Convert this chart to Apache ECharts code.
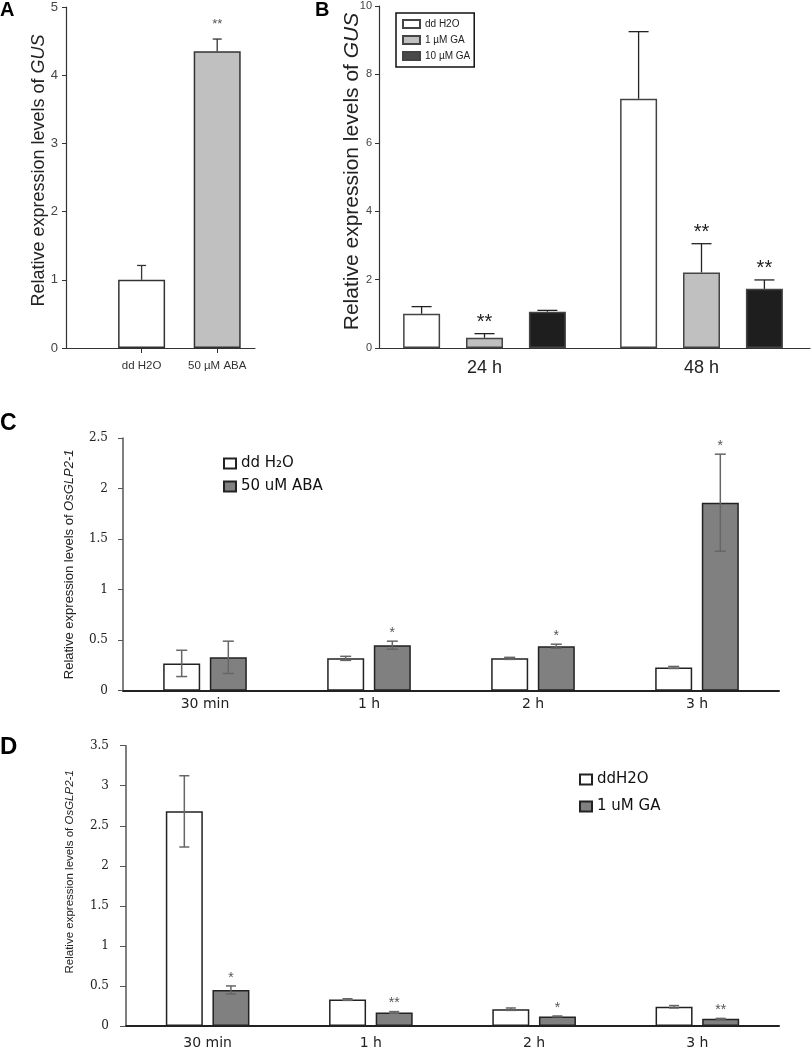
<!DOCTYPE html>
<html>
<head>
<meta charset="utf-8">
<script src="https://cdn.jsdelivr.net/npm/echarts@6/dist/echarts.min.js"></script>
<style>html,body{margin:0;padding:0;background:#fff}#chart{width:812px;height:1050px}</style>
</head>
<body>
<div id="chart"></div>
<script>
// ---------- Panel A ----------
const catA = ['dd H2O', '50 µM ABA'];
const valA = [1.0, 4.35];
const errA = [0.21, 0.18];
const sigA = ['', '**'];
const ticksA = [0, 1, 2, 3, 4, 5];

// ---------- Panel B ----------
const catB = ['24 h', '48 h'];
const namesB = ['dd H2O', '1 µM GA', '10 µM GA'];
const valB_H2O = [1.0, 7.29];
const errB_H2O = [0.21, 1.96];
const sigB_H2O = ['', ''];
const valB_GA1 = [0.30, 2.21];
const errB_GA1 = [0.12, 0.84];
const sigB_GA1 = ['**', '**'];
const valB_GA10 = [1.06, 1.73];
const errB_GA10 = [0.04, 0.26];
const sigB_GA10 = ['', '**'];

// ---------- Panel C ----------
const catC = ['30 min', '1 h', '2 h', '3 h'];
const namesC = ['dd H₂O', '50 uM ABA'];
const valC_H2O = [0.27, 0.32, 0.32, 0.23];
const errC_H2O = [0.13, 0.02, 0.01, 0.01];
const sigC_H2O = ['', '', '', ''];
const valC_ABA = [0.33, 0.45, 0.44, 1.86];
const errC_ABA = [0.16, 0.04, 0.02, 0.48];
const sigC_ABA = ['', '*', '*', '*'];

// ---------- Panel D ----------
const catD = ['30 min', '1 h', '2 h', '3 h'];
const namesD = ['ddH2O', '1 uM GA'];
const valD_H2O = [2.68, 0.33, 0.21, 0.24];
const errD_H2O = [0.445, 0.01, 0.015, 0.015];
const sigD_H2O = ['', '', '', ''];
const valD_GA = [0.45, 0.17, 0.12, 0.09];
const errD_GA = [0.05, 0.01, 0.005, 0.005];
const sigD_GA = ['*', '**', '*', '**'];

const SANS = 'Liberation Sans, Arial, sans-serif';
const WIDE = 'DejaVu Sans, sans-serif';
const SERIF = 'DejaVu Serif, Liberation Serif, serif';

// error bar + significance renderer
function errSeries(opt) {
  const data = opt.vals.map((v, i) => [opt.xs ? opt.xs[i] : i, v, opt.errs[i]]);
  return {
    type: 'custom', xAxisIndex: opt.axis, yAxisIndex: opt.axis, z: 5, silent: true,
    data: data,
    renderItem: function (params, api) {
      const xi = api.value(0), v = api.value(1), e = api.value(2);
      const base = api.coord([xi, v]);
      const top = api.coord([xi, v + e]);
      const bot = api.coord([xi, Math.max(0, v - e)]);
      const x = base[0] + opt.offset;
      const hw = opt.cap / 2;
      const st = { stroke: opt.color, lineWidth: opt.lw };
      const ch = [];
      if (e > 0) {
        ch.push({ type: 'line', shape: { x1: x, y1: opt.two ? bot[1] : base[1], x2: x, y2: top[1] }, style: st });
        ch.push({ type: 'line', shape: { x1: x - hw, y1: top[1], x2: x + hw, y2: top[1] }, style: st });
        if (opt.two) ch.push({ type: 'line', shape: { x1: x - hw, y1: bot[1], x2: x + hw, y2: bot[1] }, style: st });
      }
      const s = opt.sig[params.dataIndex];
      if (s) {
        ch.push({ type: 'text', style: { text: s, x: x, y: top[1] - opt.sigGap, align: 'center', verticalAlign: 'middle',
          font: opt.sigFont, fill: opt.sigColor } });
      }
      return { type: 'group', children: ch };
    }
  };
}

function offs(n, k, bw, gapRatio) { return (k - (n - 1) / 2) * bw * (1 + gapRatio); }

const BW_B = 37, GAP_B = 0.7;
const BW_C = 37, GAP_C = 0.26;

const option = {
  animation: false,
  backgroundColor: '#fff',
  graphic: [
    { type: 'text', left: 0, top: 0, style: { text: 'A', font: 'bold 20px ' + SANS, fill: '#000' } },
    { type: 'text', left: 315, top: 0, style: { text: 'B', font: 'bold 20px ' + SANS, fill: '#000' } },
    { type: 'text', left: 0, top: 412, style: { text: 'C', font: 'bold 23px ' + SANS, fill: '#000' } },
    { type: 'text', left: 0, top: 735, style: { text: 'D', font: 'bold 24px ' + SANS, fill: '#000' } }
  ],
  legend: [
    { data: [{ name: namesB[0] }, { name: namesB[1] }, { name: namesB[2], itemStyle: { color: '#4a4a4a' } }],
      orient: 'vertical', left: 396, top: 13, padding: [6, 4, 6, 6], itemWidth: 17, itemHeight: 8, itemGap: 6,
      borderColor: '#111', borderWidth: 1.5, icon: 'rect', selectedMode: false,
      textStyle: { fontFamily: SANS, fontSize: 10, color: '#222' } },
    { data: namesC, orient: 'vertical', left: 223, top: 456, padding: 0, itemWidth: 12, itemHeight: 10, itemGap: 8,
      icon: 'rect', selectedMode: false, textStyle: { fontFamily: WIDE, fontSize: 15, color: '#111' } },
    { data: namesD, orient: 'vertical', left: 579, top: 772, padding: 0, itemWidth: 12, itemHeight: 10, itemGap: 12,
      icon: 'rect', selectedMode: false, textStyle: { fontFamily: WIDE, fontSize: 15, color: '#111' } }
  ],
  grid: [
    { left: 66, top: 7, width: 189, height: 341 },
    { left: 376, top: 6, width: 434, height: 342 },
    { left: 123, top: 438, width: 656, height: 252.7 },
    { left: 126, top: 745.7, width: 653, height: 282 }
  ],
  xAxis: [
    { gridIndex: 0, type: 'value', min: 0, max: 2.5, interval: 1, splitLine: { show: false },
      axisLine: { show: true, lineStyle: { color: '#333', width: 1.2 } },
      axisTick: { show: true, length: 5, customValues: [1, 2], lineStyle: { color: '#333' } },
      axisLabel: { customValues: [1, 2], formatter: v => (v >= 1 && Number.isInteger(v)) ? (catA[v - 1] || '') : '',
        margin: 12, fontFamily: SANS, fontSize: 11.5, color: '#333' } },
    { gridIndex: 1, type: 'category', data: catB,
      axisLine: { lineStyle: { color: '#333', width: 1.2 } },
      axisTick: { alignWithLabel: true, length: 5, lineStyle: { color: '#333' } },
      axisLabel: { margin: 11, fontFamily: SANS, fontSize: 18, color: '#222' } },
    { gridIndex: 2, type: 'category', data: catC,
      axisLine: { lineStyle: { color: '#222', width: 2 } }, axisTick: { show: false },
      axisLabel: { margin: 7, fontFamily: WIDE, fontSize: 14, color: '#222' } },
    { gridIndex: 3, type: 'category', data: catD,
      axisLine: { lineStyle: { color: '#222', width: 2 } }, axisTick: { show: false },
      axisLabel: { margin: 10, fontFamily: WIDE, fontSize: 14, color: '#222' } }
  ],
  yAxis: [
    { gridIndex: 0, type: 'value', min: ticksA[0], max: ticksA[ticksA.length - 1], interval: 1, splitLine: { show: false },
      axisLine: { show: true, lineStyle: { color: '#333', width: 1.2 } },
      axisTick: { show: true, length: 4, lineStyle: { color: '#333' } },
      axisLabel: { margin: 8, fontFamily: SANS, fontSize: 13, color: '#444' },
      name: 'Relative expression levels of {i|GUS}', nameLocation: 'middle', nameGap: 18, nameMoveOverlap: false,
      nameTextStyle: { fontFamily: SANS, fontSize: 18, color: '#222', padding: [0, 0, 0, 14],
        rich: { i: { fontStyle: 'italic', fontFamily: SANS, fontSize: 18, color: '#222' } } } },
    { gridIndex: 1, type: 'value', min: 0, max: 10, interval: 2, splitLine: { show: false }, offset: -3,
      axisLine: { show: true, lineStyle: { color: '#333', width: 1.2 } },
      axisTick: { show: true, length: 4, lineStyle: { color: '#333' } },
      axisLabel: { margin: 7, fontFamily: SANS, fontSize: 11, color: '#444' },
      name: 'Relative expression levels of {i|GUS}', nameLocation: 'middle', nameGap: 16, nameMoveOverlap: false,
      nameTextStyle: { fontFamily: SANS, fontSize: 21, color: '#222', padding: [0, 0, 0, 11],
        rich: { i: { fontStyle: 'italic', fontFamily: SANS, fontSize: 21, color: '#222' } } } },
    { gridIndex: 2, type: 'value', min: 0, max: 2.5, interval: 0.5, splitLine: { show: false },
      axisLine: { show: true, lineStyle: { color: '#555', width: 1.5 } },
      axisTick: { show: true, length: 5, lineStyle: { color: '#555' } },
      axisLabel: { margin: 15, fontFamily: SERIF, fontSize: 12, color: '#222' },
      name: 'Relative expression levels of {i|OsGLP2-1}', nameLocation: 'middle', nameGap: 47, nameMoveOverlap: false,
      nameTextStyle: { fontFamily: SANS, fontSize: 13, color: '#222',
        rich: { i: { fontStyle: 'italic', fontFamily: SANS, fontSize: 13, color: '#222' } } } },
    { gridIndex: 3, type: 'value', min: 0, max: 3.5, interval: 0.5, splitLine: { show: false },
      axisLine: { show: true, lineStyle: { color: '#555', width: 1.5 } },
      axisTick: { show: true, length: 6, lineStyle: { color: '#555' } },
      axisLabel: { margin: 17, fontFamily: SERIF, fontSize: 12, color: '#222' },
      name: 'Relative expression levels of {i|OsGLP2-1}', nameLocation: 'middle', nameGap: 50, nameMoveOverlap: false,
      nameTextStyle: { fontFamily: SANS, fontSize: 11.5, color: '#222', padding: [0, 0, 0, 28],
        rich: { i: { fontStyle: 'italic', fontFamily: SANS, fontSize: 11.5, color: '#222' } } } }
  ],
  series: [
    // A
    { type: 'bar', name: 'GUS A', xAxisIndex: 0, yAxisIndex: 0, barWidth: 47,
      data: valA.map((v, i) => ({ value: [i + 1, v], itemStyle: { color: i === 0 ? '#ffffff' : '#c0c0c0' } })),
      itemStyle: { borderColor: '#333', borderWidth: 1.5 } },
    errSeries({ axis: 0, vals: valA, errs: errA, xs: valA.map((v, i) => i + 1), sig: sigA, offset: 0, cap: 9,
      color: '#333', lw: 1.3, two: false, sigGap: 15, sigFont: '13px ' + SANS, sigColor: '#555' }),
    // B
    { type: 'bar', name: namesB[0], xAxisIndex: 1, yAxisIndex: 1, barWidth: BW_B, barGap: '70%', data: valB_H2O,
      itemStyle: { color: '#ffffff', borderColor: '#444', borderWidth: 1.5 } },
    { type: 'bar', name: namesB[1], xAxisIndex: 1, yAxisIndex: 1, barWidth: BW_B, barGap: '70%', data: valB_GA1,
      itemStyle: { color: '#c0c0c0', borderColor: '#444', borderWidth: 1.5 } },
    { type: 'bar', name: namesB[2], xAxisIndex: 1, yAxisIndex: 1, barWidth: BW_B, barGap: '70%', data: valB_GA10,
      itemStyle: { color: '#1e1e1e', borderColor: '#444', borderWidth: 1.5 } },
    errSeries({ axis: 1, vals: valB_H2O, errs: errB_H2O, sig: sigB_H2O, offset: offs(3, 0, BW_B, GAP_B), cap: 20,
      color: '#222', lw: 1.3, two: false, sigGap: 11, sigFont: '20px ' + SANS, sigColor: '#222' }),
    errSeries({ axis: 1, vals: valB_GA1, errs: errB_GA1, sig: sigB_GA1, offset: offs(3, 1, BW_B, GAP_B), cap: 20,
      color: '#222', lw: 1.3, two: false, sigGap: 11, sigFont: '20px ' + SANS, sigColor: '#222' }),
    errSeries({ axis: 1, vals: valB_GA10, errs: errB_GA10, sig: sigB_GA10, offset: offs(3, 2, BW_B, GAP_B), cap: 20,
      color: '#222', lw: 1.3, two: false, sigGap: 11, sigFont: '20px ' + SANS, sigColor: '#222' }),
    // C
    { type: 'bar', name: namesC[0], xAxisIndex: 2, yAxisIndex: 2, barWidth: BW_C, barGap: '26%', data: valC_H2O,
      itemStyle: { color: '#ffffff', borderColor: '#222', borderWidth: 1.5 } },
    { type: 'bar', name: namesC[1], xAxisIndex: 2, yAxisIndex: 2, barWidth: BW_C, barGap: '26%', data: valC_ABA,
      itemStyle: { color: '#808080', borderColor: '#222', borderWidth: 1.5 } },
    errSeries({ axis: 2, vals: valC_H2O, errs: errC_H2O, sig: sigC_H2O, offset: offs(2, 0, BW_C, GAP_C), cap: 11,
      color: '#666', lw: 1.5, two: true, sigGap: 8, sigFont: '14px ' + SANS, sigColor: '#555' }),
    errSeries({ axis: 2, vals: valC_ABA, errs: errC_ABA, sig: sigC_ABA, offset: offs(2, 1, BW_C, GAP_C), cap: 11,
      color: '#666', lw: 1.5, two: true, sigGap: 8, sigFont: '14px ' + SANS, sigColor: '#555' }),
    // D
    { type: 'bar', name: namesD[0], xAxisIndex: 3, yAxisIndex: 3, barWidth: BW_C, barGap: '26%', data: valD_H2O,
      itemStyle: { color: '#ffffff', borderColor: '#222', borderWidth: 1.5 } },
    { type: 'bar', name: namesD[1], xAxisIndex: 3, yAxisIndex: 3, barWidth: BW_C, barGap: '26%', data: valD_GA,
      itemStyle: { color: '#808080', borderColor: '#222', borderWidth: 1.5 } },
    errSeries({ axis: 3, vals: valD_H2O, errs: errD_H2O, sig: sigD_H2O, offset: offs(2, 0, BW_C, GAP_C), cap: 10,
      color: '#666', lw: 1.5, two: true, sigGap: 8, sigFont: '14px ' + SANS, sigColor: '#555' }),
    errSeries({ axis: 3, vals: valD_GA, errs: errD_GA, sig: sigD_GA, offset: offs(2, 1, BW_C, GAP_C), cap: 10,
      color: '#666', lw: 1.5, two: true, sigGap: 8, sigFont: '14px ' + SANS, sigColor: '#555' })
  ]
};

const chart = echarts.init(document.getElementById('chart'), null, { renderer: 'canvas' });
chart.setOption(option);
</script>
</body>
</html>
